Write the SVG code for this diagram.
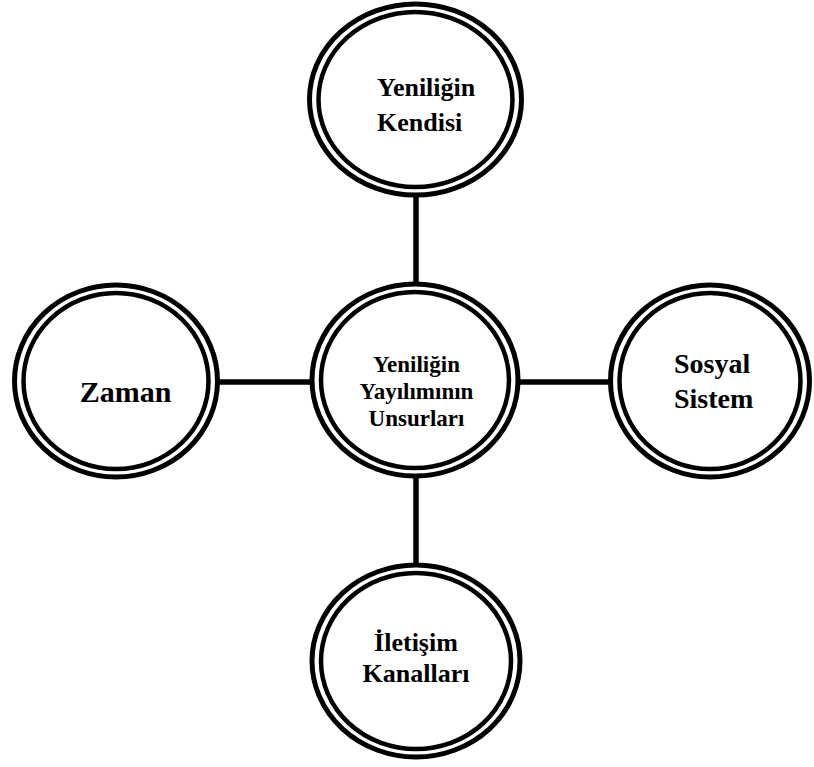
<svg xmlns="http://www.w3.org/2000/svg" width="814" height="767" viewBox="0 0 814 767">
<style>
.outer{fill:#fff;stroke:#000;stroke-width:5}
.inner{fill:none;stroke:#000;stroke-width:4.5}
.conn line{stroke:#000;stroke-width:5.5}
text{font-family:"Liberation Serif","Times New Roman",serif;font-weight:bold;fill:#000}
.c{text-anchor:middle}
</style>
<rect width="814" height="767" fill="#fff"/>
<g id="node-top">
<ellipse class="outer" cx="415.5" cy="99.5" rx="106" ry="95.5"/>
<ellipse class="inner" cx="415.5" cy="99.5" rx="97" ry="87.5"/>
<text x="377" y="96" font-size="26">Yeniliğin</text>
<text x="377" y="131" font-size="26">Kendisi</text>
</g>
<g id="node-center">
<ellipse class="outer" cx="415" cy="380" rx="103" ry="96"/>
<ellipse class="inner" cx="415" cy="380" rx="94" ry="88"/>
<text class="c" x="416.5" y="372" font-size="23">Yeniliğin</text>
<text class="c" x="416.5" y="399" font-size="23">Yayılımının</text>
<text class="c" x="416.5" y="426" font-size="23">Unsurları</text>
</g>
<g id="node-left">
<ellipse class="outer" cx="116" cy="381" rx="101.5" ry="96"/>
<ellipse class="inner" cx="116" cy="381" rx="92.5" ry="88"/>
<text class="c" x="125.5" y="402" font-size="30">Zaman</text>
</g>
<g id="node-right">
<ellipse class="outer" cx="710" cy="381" rx="99.5" ry="96"/>
<ellipse class="inner" cx="710" cy="381" rx="90.5" ry="88"/>
<text x="674" y="373" font-size="28">Sosyal</text>
<text x="674" y="408" font-size="28">Sistem</text>
</g>
<g id="node-bottom">
<ellipse class="outer" cx="416" cy="661" rx="104" ry="96"/>
<ellipse class="inner" cx="416" cy="661" rx="95" ry="88"/>
<text class="c" x="416" y="651" font-size="26">İletişim</text>
<text class="c" x="416" y="682" font-size="26">Kanalları</text>
</g>
<g id="connectors" class="conn">
<line x1="416" y1="196" x2="416" y2="286"/>
<line x1="416" y1="476" x2="416" y2="566"/>
<line x1="217" y1="382" x2="313" y2="382"/>
<line x1="516" y1="382" x2="612" y2="382"/>
</g>
</svg>
